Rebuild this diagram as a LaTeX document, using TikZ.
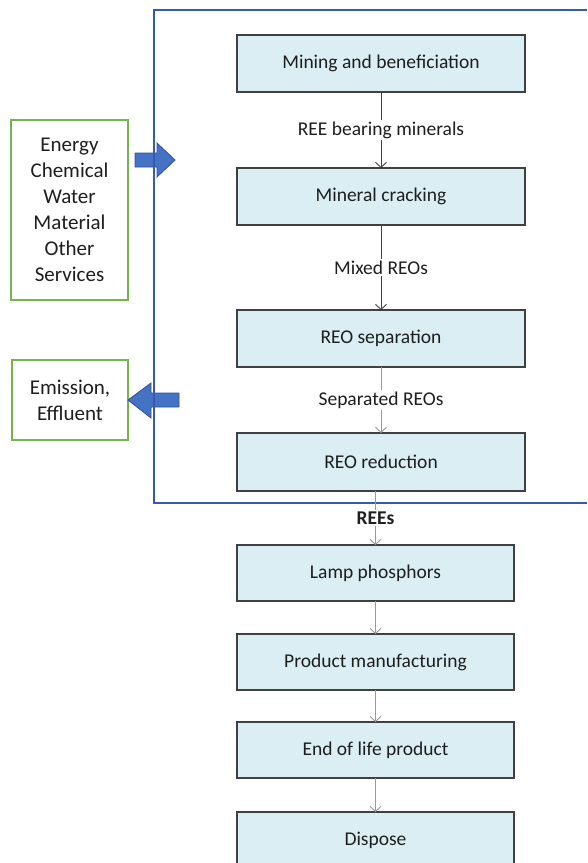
\documentclass[tikz,border=0pt]{standalone}
\usepackage{tikz}
\usetikzlibrary{positioning,arrows.meta}
\usepackage{xcolor}
\usepackage{fontspec}
\setmainfont{Carlito}
\definecolor{reeblue}{RGB}{218,238,243}
\definecolor{reeline}{RGB}{64,64,64}
\definecolor{reeframe}{RGB}{55,90,175}
\definecolor{reearrow}{RGB}{68,114,196}
\definecolor{reearrowline}{RGB}{47,82,143}
\definecolor{reegreen}{RGB}{118,178,80}
\definecolor{reetext}{RGB}{30,30,30}

\begin{document}
\begin{tikzpicture}[
    x=1pt, y=1pt,
    font=\fontsize{19.5}{23}\selectfont, text=reetext,
    box/.style={draw=reeline, line width=1.3pt, fill=reeblue, minimum width=288pt, minimum height=57pt, inner sep=0pt, outer sep=0pt},
    lowbox/.style={box, minimum width=277pt, minimum height=56pt},
    side/.style={draw=reegreen, line width=1.6pt, fill=white, align=center, font=\fontsize{21}{26}\selectfont, inner sep=0pt},
    blockarr/.style={draw=reearrowline, line width=0.8pt, fill=reearrow},
    arr/.style={-{Straight Barb[length=5pt,width=11pt]}, line width=0.9pt, draw=reeline},
    lightarr/.style={arr, draw=black!40},
    lbl/.style={fill=white, inner sep=2pt},
]
\useasboundingbox (0,0) rectangle (587,-863);
\clip (0,0) rectangle (587,-863);

% process chain inside the plant
\node[box] (mining) at (381,-63.5) {Mining and beneficiation};
\node[box, below=76pt of mining]     (cracking)   {Mineral cracking};
\node[box, below=85pt of cracking]   (separation) {REO separation};
\node[box, below=66pt of separation, minimum height=58pt] (reduction) {REO reduction};

% downstream use
\node[lowbox, below=54pt of reduction.south west, anchor=north west] (lamp)    {Lamp phosphors};
\node[lowbox, below=33pt of lamp]    (product) {Product manufacturing};
\node[lowbox, below=32pt of product] (eol)     {End of life product};
\node[lowbox, below=34pt of eol]     (dispose) {Dispose};

% inputs and outputs
\node[side, minimum width=117pt, minimum height=180pt] (inputs) at (69.5,-210)
    {Energy\\Chemical\\Water\\Material\\Other\\Services};
\node[side, minimum width=116pt, minimum height=80pt] (outputs) at (70,-400)
    {Emission,\\Effluent};

\draw[blockarr] (135,-153) -- (157,-153) -- (157,-143) -- (175,-160)
    -- (157,-177) -- (157,-167) -- (135,-167) -- cycle;
\draw[blockarr] (179,-393) -- (151,-393) -- (151,-383) -- (128,-400)
    -- (151,-418) -- (151,-407) -- (179,-407) -- cycle;

% plant boundary
\draw[reeframe, line width=1.5pt] (587,-10) -| (154,-503) -- (587,-503);

\draw[arr] (mining) -- node[lbl]{REE bearing minerals} (cracking);
\draw[arr] (cracking) -- node[lbl]{Mixed REOs} (separation);
\draw[lightarr] (separation) -- node[lbl]{Separated REOs} (reduction);
\draw[lightarr] (reduction.south -| lamp.north) -- node[lbl, font=\fontsize{19.5}{23}\selectfont\bfseries]{REEs} (lamp);
\draw[lightarr] (lamp) -- (product);
\draw[lightarr] (product) -- (eol);
\draw[lightarr] (eol) -- (dispose);
\end{tikzpicture}
\end{document}
